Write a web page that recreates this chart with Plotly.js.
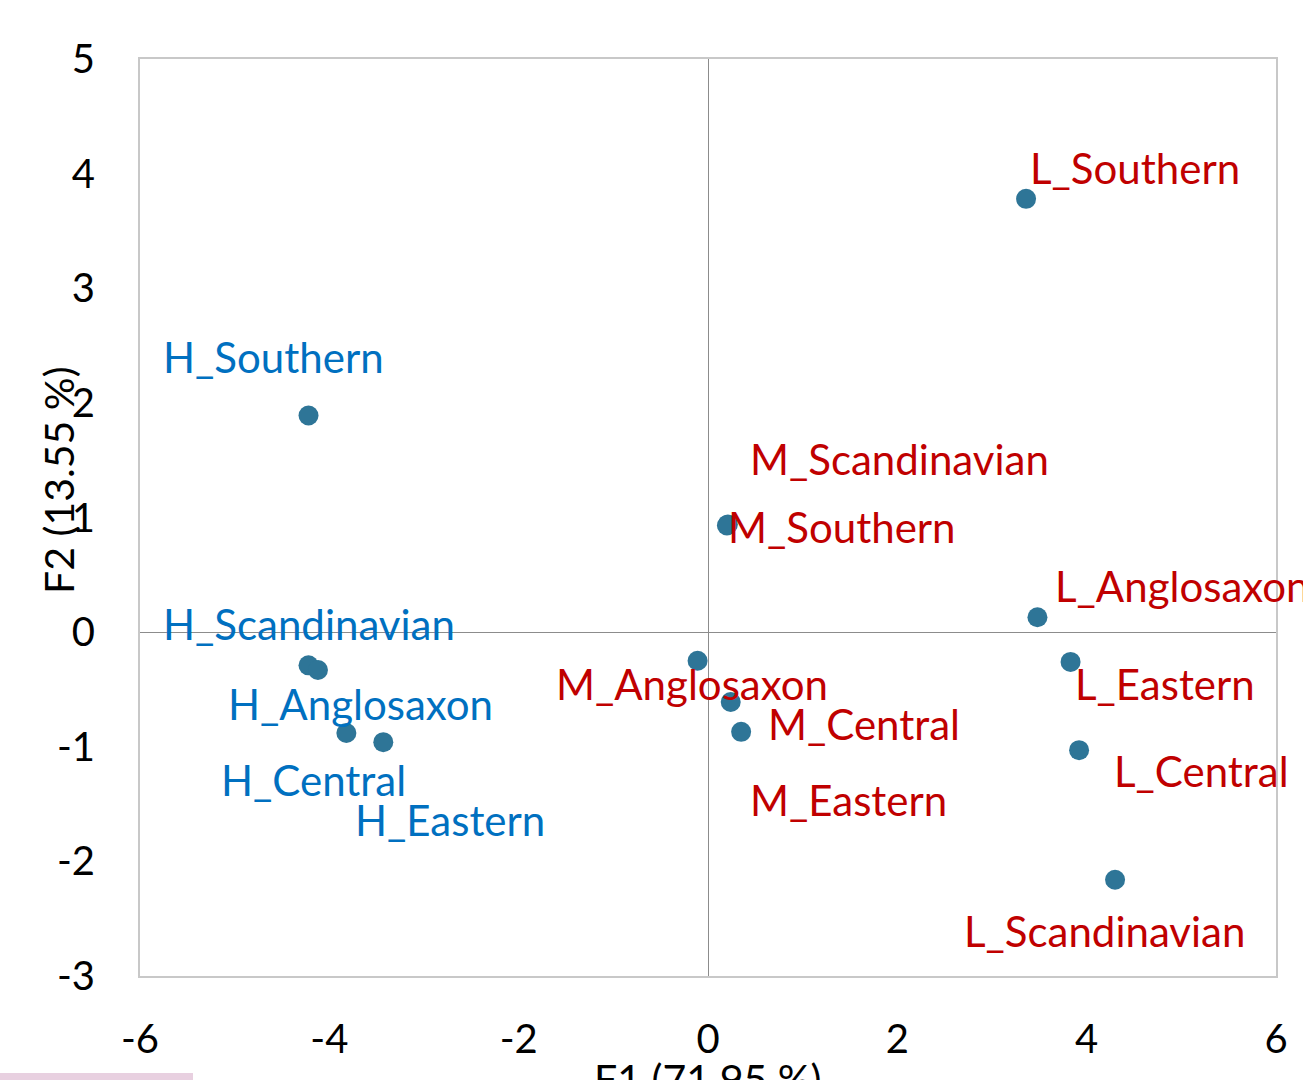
<!DOCTYPE html>
<html>
<head>
<meta charset="utf-8">
<script src="https://cdn.plot.ly/plotly-3.0.1.min.js"></script>
<style>html,body{margin:0;padding:0;background:#fff;}#chart{width:1303px;height:1080px;}</style>
</head>
<body>
<div id="chart"></div>
<script>
// ---- data ----
const labels = ["H_Southern","H_Scandinavian","H_Anglosaxon","H_Central","H_Eastern",
                "M_Scandinavian","M_Southern","M_Anglosaxon","M_Central","M_Eastern",
                "L_Southern","L_Anglosaxon","L_Eastern","L_Central","L_Scandinavian"];
const f1 = [-4.22,-4.22,-4.12,-3.82,-3.43, 0.21,0.20,-0.11,0.35,0.24, 3.36,3.48,3.83,3.92,4.30];
const f2 = [1.89,-0.29,-0.33,-0.88,-0.96, 0.94,0.93,-0.25,-0.87,-0.61, 3.78,0.13,-0.26,-1.03,-2.16];
const xTicks = [-6,-4,-2,0,2,4,6];
const yTicks = [-3,-2,-1,0,1,2,3,4,5];
const xTitle = "F1 (71.95 %)";
const yTitle = "F2 (13.55 %)";

// ---- label placement (pixel offsets, style only) ----
const labDx = [-148,-148,-92,-127,-30, 20,-1,-144,25,17, 2,16,2,33,-153];
const labDy = [58,41,-34,-47,-78, 65,-1,-23,8,-98, 31,31,-22,-21,-51];
const FONT = "Lato, 'Open Sans', sans-serif";
const colorFor = l => l.startsWith("H_") ? "#0070C0" : "#C00000";

const annotations = labels.map((l,i) => ({
  x: f1[i], y: f2[i], xref: "x", yref: "y", text: l, showarrow: false,
  xanchor: "left", yanchor: "middle", xshift: labDx[i], yshift: labDy[i],
  font: {family: FONT, size: 42, color: colorFor(l)}
}));
annotations.push({
  xref: "paper", yref: "paper", x: 0.5, y: 0, xanchor: "center", yanchor: "top",
  yshift: -76, text: xTitle, showarrow: false, font: {family: FONT, size: 41, color: "#000"}
});
annotations.push({
  xref: "paper", yref: "paper", x: 0, y: 0.541, xanchor: "center", yanchor: "middle",
  xshift: -81, textangle: -90, text: yTitle, showarrow: false, font: {family: FONT, size: 41, color: "#000"}
});

const trace = {
  type: "scatter", mode: "markers", x: f1, y: f2, text: labels,
  marker: {size: 20, color: "#2E7597"}, hoverinfo: "text"
};

const layout = {
  width: 1303, height: 1080,
  margin: {l: 140, r: 27, t: 59, b: 104},
  paper_bgcolor: "#fff", plot_bgcolor: "#fff",
  showlegend: false,
  xaxis: {
    range: [-6, 6], tickvals: xTicks, ticktext: xTicks.map(String),
    showgrid: false, zeroline: true, zerolinecolor: "#8c8c8c", zerolinewidth: 1,
    showline: true, mirror: true, linecolor: "#c8c8c8", linewidth: 2,
    ticks: "", ticklabelstandoff: 27,
    tickfont: {family: FONT, size: 40, color: "#000"}, automargin: false
  },
  yaxis: {
    range: [-3, 5], tickvals: yTicks, ticktext: yTicks.map(String),
    showgrid: false, zeroline: true, zerolinecolor: "#8c8c8c", zerolinewidth: 1,
    showline: true, mirror: true, linecolor: "#c8c8c8", linewidth: 2,
    ticks: "", ticklabelstandoff: 35,
    tickfont: {family: FONT, size: 40, color: "#000"}, automargin: false
  },
  annotations: annotations,
  shapes: [{type: "rect", xref: "paper", yref: "paper", x0: -140/1136, x1: 53/1136,
            y0: -97/917, y1: -104/917, fillcolor: "#e8d0e0", line: {width: 0}, layer: "above"}]
};

Plotly.newPlot("chart", [trace], layout, {displayModeBar: false, staticPlot: true});
</script>
</body>
</html>
